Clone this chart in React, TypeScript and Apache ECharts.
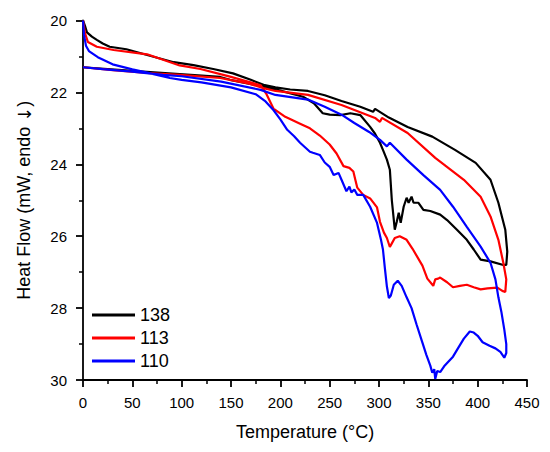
import React, { useEffect, useRef } from "react";
import * as echarts from "echarts";

const seriesNames = ["138", "113", "110"];
const seriesColors = ["#000000", "#ff0000", "#0000ff"];

const xTicks = { min: 0, max: 450, interval: 50 };
const yTicks = { min: 20, max: 30, interval: 2 };

// [Temperature (°C), Heat Flow (mW)]
const s138: [number, number][] = [
  [0, 20], [2, 20.15], [4, 20.33], [9, 20.45], [14, 20.54], [20, 20.64], [27, 20.73], [44, 20.8],
  [65, 20.96], [92, 21.16], [112, 21.24], [132, 21.35], [152, 21.47], [170, 21.65], [183, 21.79],
  [195, 21.86], [210, 21.92], [228, 21.96], [245, 22.08], [262, 22.24], [281, 22.4], [294, 22.54],
  [296, 22.46], [310, 22.7], [329, 22.96], [354, 23.23], [377, 23.6], [398, 23.96], [413, 24.43],
  [421, 25.07], [425, 25.5], [428, 25.82], [430, 26.43], [429, 26.8],
  [426, 26.8], [413, 26.7], [403, 26.65], [396, 26.37], [389, 26.1], [379, 25.82], [369, 25.55],
  [362, 25.4], [352, 25.3], [345, 25.27], [340, 25.07], [335, 25.07], [333, 24.9], [330, 25.07],
  [328, 24.93], [325, 25.18], [322, 25.63], [320, 25.35], [318, 25.6], [316, 25.82], [313, 25.0],
  [311, 24.15], [308, 23.87], [304, 23.6], [301, 23.4], [296, 23.15], [291, 22.96], [281, 22.63],
  [271, 22.58], [261, 22.63], [250, 22.62], [243, 22.58], [234, 22.3], [223, 22.12], [200, 21.95],
  [183, 21.84], [149, 21.65], [139, 21.57], [98, 21.49], [50, 21.4], [0, 21.3],
];

const s113: [number, number][] = [
  [0, 20], [2, 20.35], [5, 20.6], [14, 20.73], [31, 20.82], [65, 20.94], [98, 21.25], [119, 21.35],
  [149, 21.56], [180, 21.8], [186, 22.05], [193, 22.45], [205, 22.68], [220, 22.87], [230, 23.0],
  [240, 23.2], [250, 23.45], [257, 23.7], [264, 24.05], [270, 24.1], [274, 24.2], [276, 24.43],
  [278, 24.65], [284, 24.85], [291, 24.95], [298, 25.2], [301, 25.6], [305, 25.9], [308, 26.05],
  [311, 26.3], [313, 26.2], [316, 26.05], [321, 26.0], [328, 26.1], [334, 26.35], [344, 26.82],
  [349, 27.18], [355, 27.38], [357, 27.2], [360, 27.18], [362, 27.15], [369, 27.28], [375, 27.42],
  [382, 27.38], [389, 27.35], [396, 27.42], [403, 27.48], [410, 27.45], [420, 27.43], [425, 27.52],
  [428, 27.55], [429, 27.2], [426, 26.74], [421, 26.1], [413, 25.45], [403, 24.9], [386, 24.43],
  [357, 23.82], [329, 23.13], [303, 22.71], [301, 22.82], [296, 22.71], [262, 22.35], [228, 22.07],
  [195, 21.96], [183, 21.88], [166, 21.74], [139, 21.6], [98, 21.51], [65, 21.46], [30, 21.38],
  [0, 21.3],
];

const s110: [number, number][] = [
  [0, 20], [1, 20.4], [3, 20.7], [6, 20.85], [15, 21.02], [30, 21.22], [50, 21.36], [65, 21.45],
  [88, 21.6], [100, 21.65], [120, 21.72], [150, 21.86], [175, 22.05], [185, 22.25], [193, 22.49],
  [200, 22.75], [207, 23.04], [214, 23.22], [220, 23.4], [230, 23.65], [233, 23.68], [240, 23.74],
  [245, 23.95], [250, 24.07], [254, 24.3], [259, 24.24], [262, 24.43], [267, 24.75], [270, 24.62],
  [272, 24.78], [275, 24.7], [278, 24.85], [284, 24.85], [291, 25.18], [298, 25.63], [302, 26.1],
  [304, 26.37], [306, 26.9], [308, 27.4], [310, 27.72], [312, 27.65], [315, 27.35], [319, 27.24],
  [323, 27.38], [328, 27.7], [333, 28.0], [338, 28.45], [344, 28.96], [348, 29.3], [352, 29.6],
  [354, 29.8], [356, 29.7], [357, 29.97], [359, 29.75], [362, 29.78], [366, 29.62], [370, 29.5],
  [375, 29.35], [380, 29.12], [386, 28.85], [392, 28.65], [396, 28.68], [400, 28.77], [405, 28.95],
  [412, 29.05], [418, 29.12], [423, 29.22], [427, 29.38], [429, 29.25], [429, 29.0],
  [427, 28.6], [424, 28.1], [421, 27.7], [418, 27.2], [413, 26.74], [403, 26.29], [389, 25.74],
  [375, 25.18], [362, 24.71], [345, 24.3], [328, 23.87], [311, 23.4], [308, 23.5], [301, 23.32],
  [290, 23.1], [275, 22.85], [262, 22.62], [245, 22.4], [228, 22.2], [195, 22.07], [180, 21.93],
  [140, 21.7], [100, 21.55], [81, 21.51], [50, 21.42], [20, 21.35], [0, 21.3],
];

const seriesData = [s138, s113, s110];

const FONT = "'Liberation Sans', Arial, sans-serif";

export default function App() {
  const ref = useRef<HTMLDivElement>(null);
  useEffect(() => {
    document.body.style.margin = "0";
    if (!ref.current) return;
    const chart = echarts.init(ref.current, null, { renderer: "svg" });
    const axisCommon = {
      axisLine: { show: true, lineStyle: { color: "#000", width: 1.8 } },
      axisTick: { show: true, inside: false, length: 7, lineStyle: { color: "#000", width: 1.8 } },
      minorTick: { show: true, splitNumber: 2, length: 4, lineStyle: { color: "#000", width: 1.5 } },
      splitLine: { show: false },
      nameLocation: "middle" as const,
    };
    chart.setOption({
      animation: false,
      backgroundColor: "#fff",
      grid: { left: 83, right: 23, top: 20.5, bottom: 72, containLabel: false },
      legend: {
        orient: "vertical",
        left: 92,
        top: 306,
        padding: 0,
        itemWidth: 43,
        itemHeight: 3,
        itemGap: 5,
        icon: "rect",
        data: seriesNames,
        textStyle: { color: "#000", fontSize: 18, fontFamily: FONT, lineHeight: 18 },
      },
      xAxis: {
        type: "value",
        min: xTicks.min,
        max: xTicks.max,
        interval: xTicks.interval,
        name: "Temperature (°C)",
        nameGap: 43,
        nameTextStyle: { color: "#000", fontSize: 18, fontFamily: FONT },
        axisLabel: { color: "#000", fontSize: 15, fontFamily: FONT, margin: 15 },
        ...axisCommon,
      },
      yAxis: {
        type: "value",
        min: yTicks.min,
        max: yTicks.max,
        interval: yTicks.interval,
        inverse: true,
        name: "{a|Heat Flow (mW, endo }{b|↓}{a|)}",
        nameGap: 50,
        nameTextStyle: {
          color: "#000",
          fontSize: 18,
          fontFamily: FONT,
          rich: {
            a: { color: "#000", fontSize: 18, fontFamily: FONT },
            b: { color: "#000", fontSize: 18, fontFamily: "'DejaVu Sans', sans-serif" },
          },
        },
        axisLabel: { color: "#000", fontSize: 15, fontFamily: FONT, margin: 16 },
        ...axisCommon,
      },
      series: seriesData.map((d, i) => ({
        name: seriesNames[i],
        type: "line",
        data: d,
        symbol: "none",
        showSymbol: false,
        smooth: false,
        lineStyle: { color: seriesColors[i], width: 2.2 },
        itemStyle: { color: seriesColors[i] },
      })),
    });
    return () => chart.dispose();
  }, []);
  return <div ref={ref} style={{ width: 550, height: 452 }} />;
}
